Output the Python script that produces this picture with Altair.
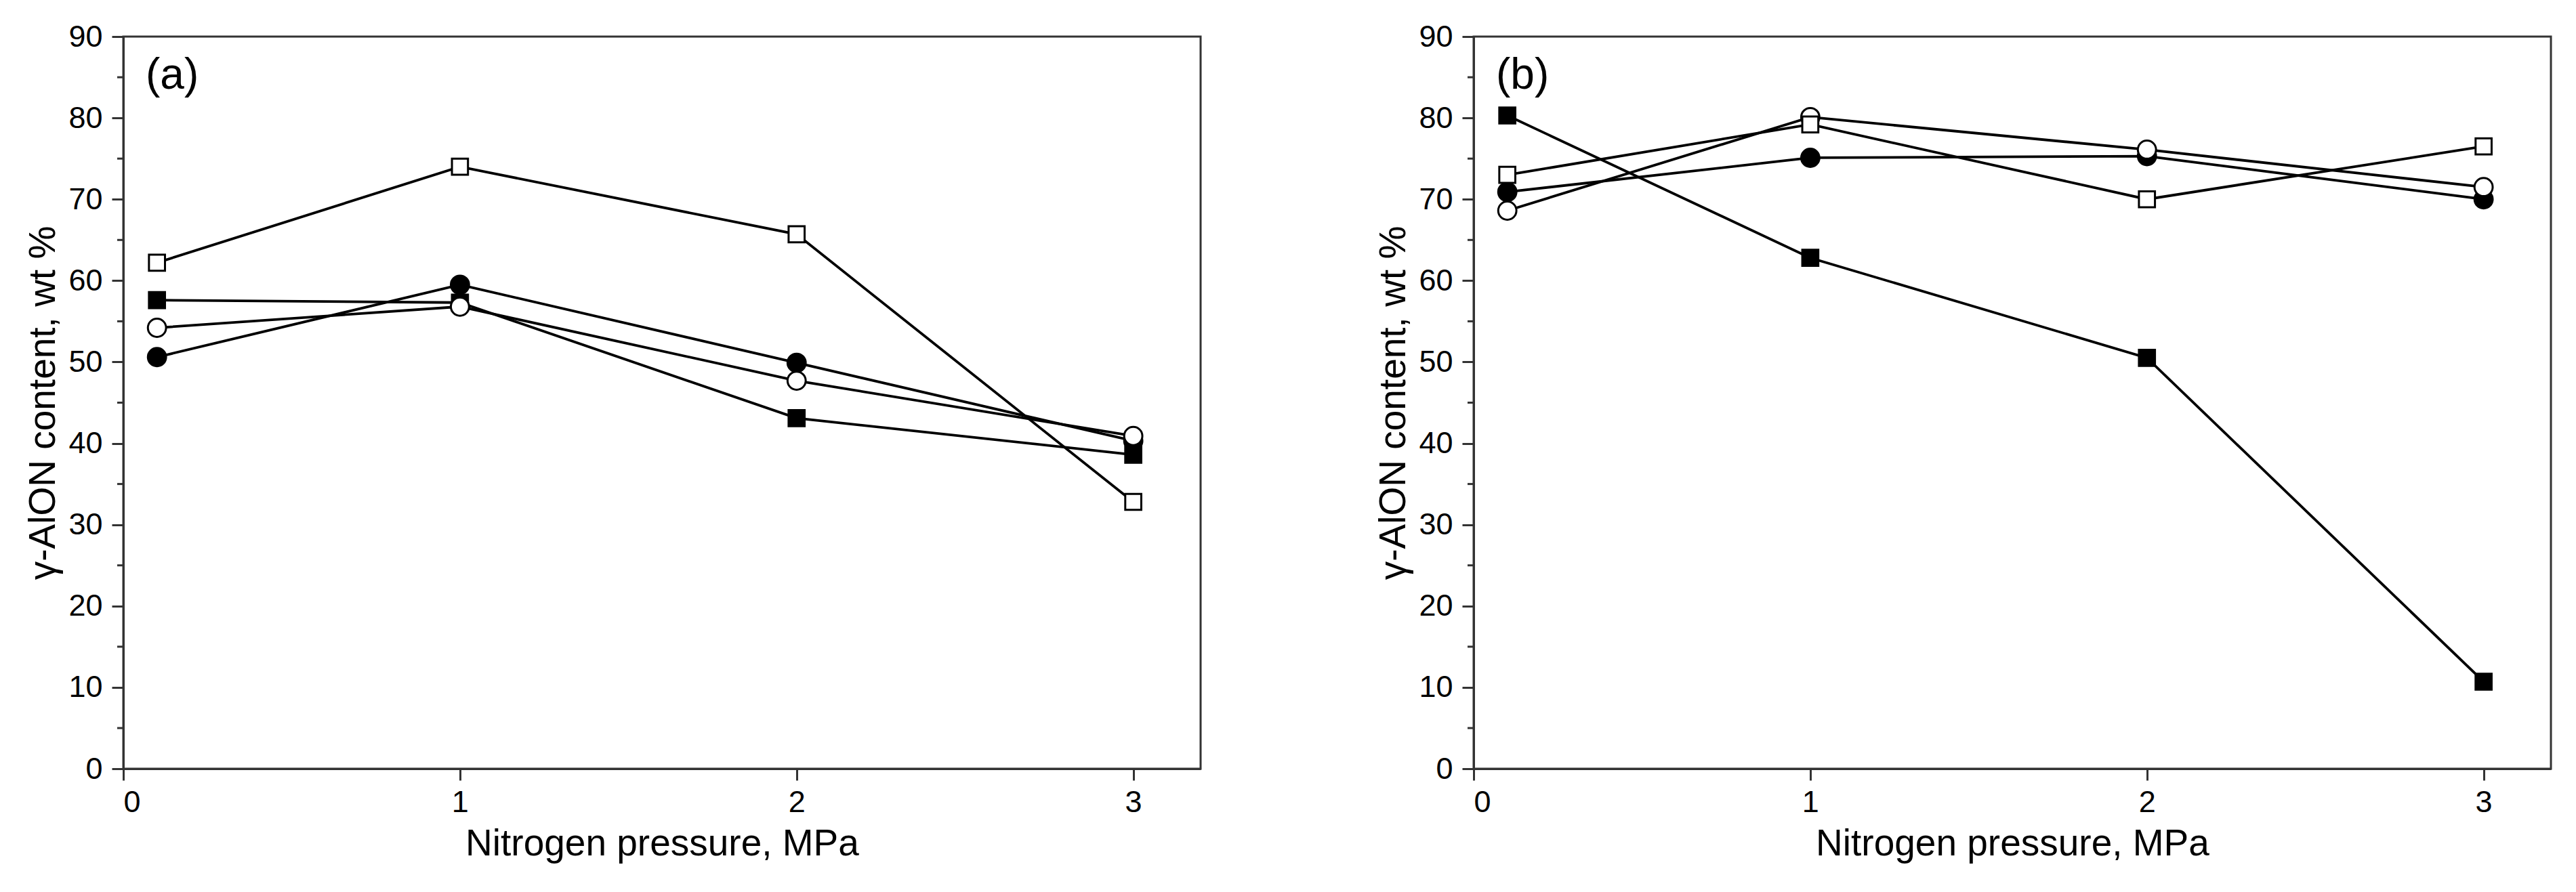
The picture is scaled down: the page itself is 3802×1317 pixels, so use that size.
import altair as alt
import pandas as pd

# ---- data ----
pressure = [0.1, 1, 2, 3]

# panel (a)
a_open_square = [62.2, 74.0, 65.7, 32.8]
a_filled_square = [57.6, 57.3, 43.1, 38.6]
a_open_circle = [54.2, 56.8, 47.7, 40.9]
a_filled_circle = [50.6, 59.5, 49.9, 40.3]

# panel (b)
b_filled_square = [80.3, 62.8, 50.5, 10.7]
b_open_square = [73.0, 79.2, 70.0, 76.5]
b_filled_circle = [70.9, 75.1, 75.3, 70.0]
b_open_circle = [68.6, 80.1, 76.1, 71.5]

panel_labels = ["(a)", "(b)"]
x_ticks = [0, 1, 2, 3]
y_ticks = [0, 10, 20, 30, 40, 50, 60, 70, 80, 90]
y_minor = [5, 15, 25, 35, 45, 55, 65, 75, 85]

FONT = "Liberation Sans"


def make_df(series):
    rows = []
    for name, marker, fill, vals in series:
        for p, v in zip(pressure, vals):
            rows.append({"series": name, "marker": marker, "fill": fill, "p": p, "v": v})
    return pd.DataFrame(rows)


df_a = make_df([
    ("filled_square", "square", "filled", a_filled_square),
    ("filled_circle", "circle", "filled", a_filled_circle),
    ("open_square", "square", "open", a_open_square),
    ("open_circle", "circle", "open", a_open_circle),
])
df_b = make_df([
    ("filled_square", "square", "filled", b_filled_square),
    ("filled_circle", "circle", "filled", b_filled_circle),
    ("open_circle", "circle", "open", b_open_circle),
    ("open_square", "square", "open", b_open_square),
])

W, H = 1590, 1081


def panel(df, label):
    xenc = alt.X("p:Q",
                 scale=alt.Scale(domain=[0, 3.2], nice=False, zero=False),
                 axis=alt.Axis(values=x_ticks, format="d", title="Nitrogen pressure, MPa",
                               labelPadding=10, titlePadding=12))
    yenc = alt.Y("v:Q",
                 scale=alt.Scale(domain=[0, 90], nice=False),
                 axis=alt.Axis(values=y_ticks, format="d", title="γ-AlON content, wt %",
                               labelPadding=14, titlePadding=8))
    base = alt.Chart(df).encode(x=xenc, y=yenc)
    lines = base.mark_line(color="black", strokeWidth=3.8).encode(
        detail="series:N", order="p:Q")
    points = base.mark_point(filled=True, stroke="black", strokeWidth=3,
                             opacity=1, fillOpacity=1, strokeOpacity=1).encode(
        shape=alt.Shape("marker:N", scale=alt.Scale(domain=["square", "circle"],
                                                    range=["square", "circle"]), legend=None),
        fill=alt.Fill("fill:N", scale=alt.Scale(domain=["filled", "open"],
                                                range=["black", "white"]), legend=None),
        size=alt.Size("marker:N", scale=alt.Scale(domain=["square", "circle"],
                                                  range=[560, 720]), legend=None),
    )
    minor = alt.Chart(pd.DataFrame({"v": y_minor})).mark_rule(
        color="#333", strokeWidth=3).encode(
        y=alt.Y("v:Q"), x=alt.value(-9), x2=alt.value(0))
    text = alt.Chart(pd.DataFrame({"t": [label]})).mark_text(
        font=FONT, fontSize=64, align="left", baseline="middle", color="black").encode(
        text="t:N", x=alt.value(33), y=alt.value(58))
    return alt.layer(lines, points, minor, text).properties(width=W, height=H)


chart = alt.hconcat(panel(df_a, panel_labels[0]), panel(df_b, panel_labels[1]),
                    spacing=254).properties(
    padding={"left": 27, "top": 22, "right": 5, "bottom": 5},
    background="white",
).configure_view(
    stroke="#333", strokeWidth=3
).configure_axis(
    grid=False,
    labelFont=FONT, titleFont=FONT,
    labelFontSize=45, titleFontSize=55, titleFontWeight="normal",
    labelColor="black", titleColor="black",
    domainColor="#333", domainWidth=3,
    tickColor="#333", tickWidth=3, tickSize=17,
).configure_scale(zero=False)

chart.save("out.html", embed_options={"renderer": "svg", "actions": False})
